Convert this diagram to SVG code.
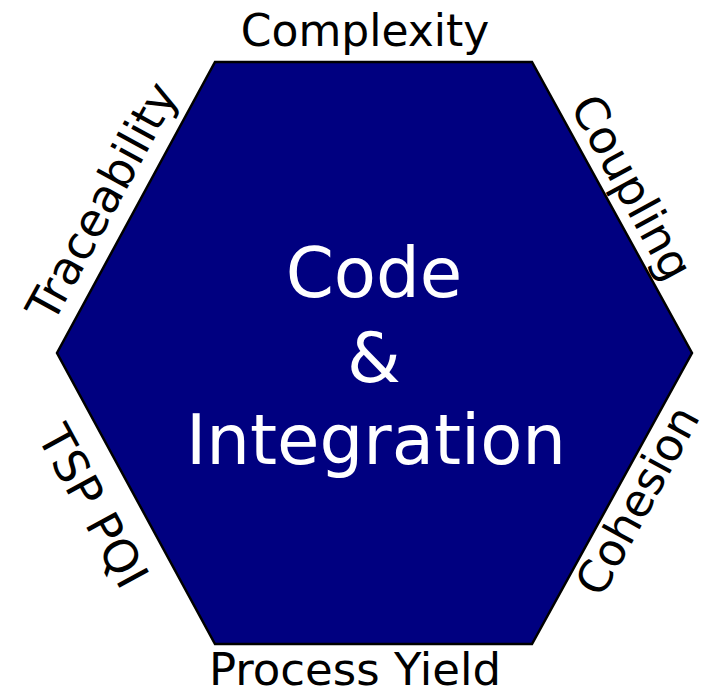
<svg xmlns="http://www.w3.org/2000/svg" width="709" height="697" viewBox="0 0 709 697">
<style>
.lbl{font-family:"DejaVu Sans","Verdana",sans-serif;fill:#000;text-anchor:middle}
.ctr{font-family:"DejaVu Sans","Verdana",sans-serif;fill:#fff;text-anchor:middle;font-size:69px}
</style>
<rect width="709" height="697" fill="#fff"/>
<g id="hexagon">
<polygon points="215,62 532,62 692,353 532,644 215,644 57,353" fill="#000080" stroke="#000" stroke-width="2.5"/>
<text class="ctr" x="374" y="297">Code</text>
<text class="ctr" x="374" y="382">&amp;</text>
<text class="ctr" x="376" y="464">Integration</text>
</g>
<g id="label-complexity"><text class="lbl" x="365" y="46" font-size="44">Complexity</text></g>
<g id="label-coupling"><text class="lbl" font-size="46" transform="translate(618,195) rotate(61.4)">Coupling</text></g>
<g id="label-cohesion"><text class="lbl" font-size="45" transform="translate(651,508) rotate(-61.4)">Cohesion</text></g>
<g id="label-yield"><text class="lbl" x="355" y="685" font-size="45">Process Yield</text></g>
<g id="label-tsp"><text class="lbl" font-size="46" transform="translate(79,514) rotate(61.4)">TSP PQI</text></g>
<g id="label-traceability"><text class="lbl" font-size="46" transform="translate(116,209) rotate(-61.4)">Traceability</text></g>
<g id="connectors"/>
</svg>
